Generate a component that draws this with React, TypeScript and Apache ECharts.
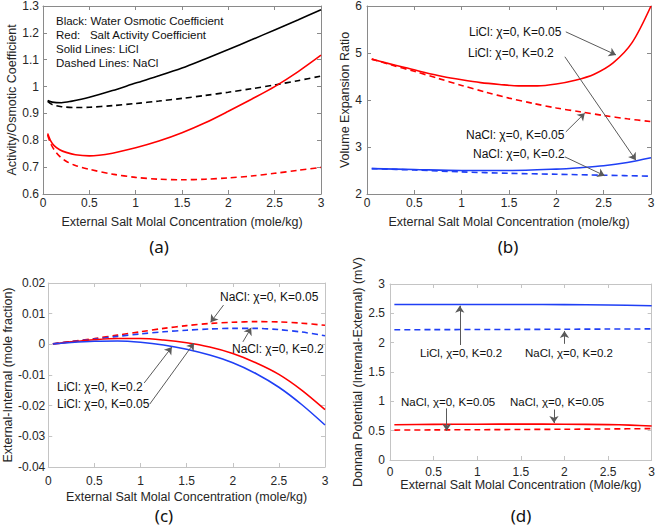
import React, { useEffect, useRef } from "react";
import * as echarts from "echarts";

// ---------- Panel (a): Activity / Osmotic coefficient ----------
const A_WATER_LICL: [number, number][] = [
  [0.05, 0.948], [0.1, 0.942], [0.2, 0.94], [0.3, 0.945], [0.5, 0.96], [0.75, 0.985],
  [1.0, 1.013], [1.25, 1.04], [1.5, 1.069], [1.75, 1.103], [2.0, 1.138], [2.25, 1.174],
  [2.5, 1.211], [2.75, 1.248], [3.0, 1.286],
];
const A_WATER_NACL: [number, number][] = [
  [0.05, 0.945], [0.1, 0.933], [0.2, 0.925], [0.35, 0.922], [0.5, 0.923], [0.75, 0.929],
  [1.0, 0.937], [1.25, 0.946], [1.5, 0.956], [1.75, 0.967], [2.0, 0.979], [2.25, 0.992],
  [2.5, 1.006], [2.75, 1.022], [3.0, 1.039],
];
const A_SALT_LICL: [number, number][] = [
  [0.05, 0.825], [0.08, 0.8], [0.12, 0.78], [0.18, 0.765], [0.25, 0.755], [0.35, 0.746],
  [0.5, 0.742], [0.75, 0.752], [1.0, 0.772], [1.25, 0.797], [1.5, 0.828], [1.75, 0.865],
  [2.0, 0.908], [2.25, 0.953], [2.5, 1.0], [2.75, 1.055], [3.0, 1.117],
];
const A_SALT_NACL: [number, number][] = [
  [0.05, 0.82], [0.08, 0.79], [0.12, 0.765], [0.18, 0.74], [0.25, 0.722], [0.35, 0.706],
  [0.5, 0.692], [0.75, 0.674], [1.0, 0.662], [1.25, 0.655], [1.5, 0.653], [1.75, 0.655],
  [2.0, 0.66], [2.25, 0.667], [2.5, 0.677], [2.75, 0.688], [3.0, 0.699],
];
const A_NOTES = [
  "Black: Water Osmotic Coefficient",
  "Red:   Salt Activity Coefficient",
  "Solid Lines: LiCl",
  "Dashed Lines: NaCl",
];

// ---------- Panel (b): Volume expansion ratio ----------
const B_LICL_K005: [number, number][] = [
  [0.05, 4.87], [0.2, 4.79], [0.4, 4.69], [0.6, 4.59], [0.8, 4.5], [1.0, 4.43],
  [1.2, 4.37], [1.4, 4.33], [1.6, 4.3], [1.8, 4.3], [2.0, 4.34], [2.2, 4.42],
  [2.4, 4.55], [2.6, 4.79], [2.8, 5.22], [3.0, 6.0],
];
const B_NACL_K005: [number, number][] = [
  [0.05, 4.87], [0.25, 4.75], [0.5, 4.61], [0.75, 4.46], [1.0, 4.31], [1.25, 4.17],
  [1.5, 4.04], [1.75, 3.93], [2.0, 3.83], [2.25, 3.75], [2.5, 3.67], [2.75, 3.6], [3.0, 3.54],
];
const B_LICL_K02: [number, number][] = [
  [0.05, 2.54], [0.5, 2.52], [1.0, 2.5], [1.5, 2.5], [2.0, 2.53], [2.25, 2.56],
  [2.5, 2.6], [2.75, 2.67], [3.0, 2.77],
];
const B_NACL_K02: [number, number][] = [
  [0.05, 2.54], [0.5, 2.51], [1.0, 2.47], [1.5, 2.44], [2.0, 2.42], [2.5, 2.4], [3.0, 2.38],
];
const B_LABELS = [
  "LiCl: χ=0, K=0.05",
  "LiCl: χ=0, K=0.2",
  "NaCl: χ=0, K=0.05",
  "NaCl: χ=0, K=0.2",
];
// arrows: [fromX, fromY, toX, toY] in data units
const B_ARROWS = [
  [2.1, 5.45, 2.63, 4.96],
  [2.09, 4.92, 2.84, 2.72],
  [2.1, 3.32, 2.3, 3.72],
  [2.09, 2.79, 2.51, 2.39],
];

// ---------- Panel (c): External - Internal (mole fraction) ----------
const C_NACL_K005: [number, number][] = [
  [0.05, 0.0002], [0.25, 0.0009], [0.5, 0.0019], [0.75, 0.003], [1.0, 0.0041], [1.25, 0.0052],
  [1.5, 0.0061], [1.75, 0.0068], [2.0, 0.0072], [2.25, 0.0074], [2.5, 0.0073], [2.75, 0.0069], [3.0, 0.0062],
];
const C_NACL_K02: [number, number][] = [
  [0.05, 0.0002], [0.25, 0.0009], [0.5, 0.0017], [0.75, 0.0026], [1.0, 0.0034], [1.25, 0.0041],
  [1.5, 0.0046], [1.75, 0.005], [2.0, 0.0052], [2.25, 0.0052], [2.5, 0.0048], [2.75, 0.004], [3.0, 0.0028],
];
const C_LICL_K005: [number, number][] = [
  [0.05, 0.0001], [0.25, 0.0008], [0.5, 0.0015], [0.75, 0.0019], [1.0, 0.0019], [1.25, 0.0014],
  [1.5, 0.0005], [1.75, -0.0009], [2.0, -0.003], [2.25, -0.006], [2.5, -0.0098], [2.75, -0.015], [3.0, -0.0213],
];
const C_LICL_K02: [number, number][] = [
  [0.05, 0.0001], [0.25, 0.0006], [0.5, 0.001], [0.75, 0.0011], [1.0, 0.0007], [1.25, -0.0002],
  [1.5, -0.0016], [1.75, -0.0035], [2.0, -0.006], [2.25, -0.0095], [2.5, -0.014], [2.75, -0.0197], [3.0, -0.0263],
];
const C_LABELS = [
  "NaCl: χ=0, K=0.05",
  "NaCl: χ=0, K=0.2",
  "LiCl: χ=0, K=0.2",
  "LiCl: χ=0, K=0.05",
];
const C_ARROWS = [
  [1.9, 0.0128, 1.76, 0.0072],
  [2.11, 0.0008, 2.2, 0.0054],
  [1.04, -0.0126, 1.34, -0.0009],
  [1.1, -0.0195, 1.58, 0.0004],
];

// ---------- Panel (d): Donnan potential ----------
const D_LICL_K02: [number, number][] = [
  [0.05, 2.65], [0.5, 2.65], [1.0, 2.65], [1.5, 2.65], [2.0, 2.648], [2.5, 2.643], [3.0, 2.63],
];
const D_NACL_K02: [number, number][] = [
  [0.05, 2.22], [0.5, 2.222], [1.0, 2.224], [1.5, 2.226], [2.0, 2.229], [2.5, 2.232], [3.0, 2.235],
];
const D_LICL_K005: [number, number][] = [
  [0.05, 0.6], [0.5, 0.607], [1.0, 0.61], [1.5, 0.611], [2.0, 0.61], [2.5, 0.603], [2.75, 0.595], [3.0, 0.58],
];
const D_NACL_K005: [number, number][] = [
  [0.05, 0.51], [0.5, 0.513], [1.0, 0.516], [1.5, 0.52], [2.0, 0.524], [2.5, 0.529], [3.0, 0.535],
];
const D_LABELS = [
  "LiCl, χ=0, K=0.2",
  "NaCl, χ=0, K=0.2",
  "NaCl, χ=0, K=0.05",
  "NaCl, χ=0, K=0.05",
];
const D_ARROWS = [
  [0.8, 1.96, 0.8, 2.63],
  [2.0, 1.98, 2.0, 2.2],
  [0.65, 0.88, 0.65, 0.5],
  [1.88, 0.86, 1.88, 0.63],
];

const PANEL_TAGS = ["(a)", "(b)", "(c)", "(d)"];

const FONT = "'Liberation Sans', Arial, Helvetica, sans-serif";
const TXT = "#262626";
const RED = "#ff0000";
const BLUE = "#1f3ff5";
const BLACK = "#000000";
const DASH = [6, 4];

export default function App() {
  const ref = useRef<HTMLDivElement>(null);

  useEffect(() => {
    if (!ref.current) return;
    const chart = echarts.init(ref.current, undefined, { renderer: "svg" });

    const grids = [
      { left: 43, top: 5, width: 278, height: 189 },
      { left: 367, top: 6, width: 284, height: 188 },
      { left: 46, top: 283, width: 279, height: 184 },
      { left: 390, top: 284, width: 264, height: 176 },
    ];
    const boxColor = ["#8a8a8a", "#8a8a8a", "#c4c4c4", "#c4c4c4"];
    const xName = [
      "External Salt Molal Concentration (mole/kg)",
      "External Salt Molal Concentration (mole/kg)",
      "External Salt Molal Concentration (mole/kg)",
      "External Salt Molal Concentration (Mole/kg)",
    ];
    const xGap = [21, 21, 23, 18];
    const xMargin = [3, 3, 8, 6];
    const yName = [
      "Activity/Osmotic Coefficient",
      "Volume Expansion Ratio",
      "External-Internal (mole fraction)",
      "Donnan Potential (Internal-External) (mV)",
    ];
    const yGap = [18, 12, 32, 24];
    const yMargin = [4, 5, 3, 5];
    const yRange = [
      { min: 0.6, max: 1.3, interval: 0.1 },
      { min: 2, max: 6, interval: 1 },
      { min: -0.04, max: 0.02, interval: 0.01 },
      { min: 0, max: 3, interval: 0.5 },
    ];

    const xAxis: any[] = [];
    const yAxis: any[] = [];
    grids.forEach((_, i) => {
      const lc = boxColor[i];
      const common = {
        type: "value",
        gridIndex: i,
        axisLine: { show: true, onZero: false, lineStyle: { color: lc, width: 1 } },
        axisTick: { show: true, inside: true, length: 4, lineStyle: { color: lc } },
        splitLine: { show: false },
      };
      xAxis.push({
        ...common,
        position: "bottom",
        min: 0,
        max: 3,
        interval: 0.5,
        name: xName[i],
        nameLocation: "middle",
        nameGap: xGap[i],
        nameTextStyle: { fontSize: 12.5, color: TXT, fontFamily: FONT },
        axisLabel: { margin: xMargin[i], fontSize: 12, color: TXT, fontFamily: FONT },
      });
      xAxis.push({
        ...common,
        position: "top",
        min: 0,
        max: 3,
        interval: 0.5,
        axisLabel: { show: false },
      });
      yAxis.push({
        ...common,
        position: "left",
        ...yRange[i],
        name: yName[i],
        nameLocation: "middle",
        nameGap: yGap[i],
        nameTextStyle: { fontSize: 12.5, color: TXT, fontFamily: FONT },
        axisLabel: { margin: yMargin[i], fontSize: 12, color: TXT, fontFamily: FONT },
      });
      yAxis.push({
        ...common,
        position: "right",
        ...yRange[i],
        axisLabel: { show: false },
      });
    });

    const arrowMark = (arrows: number[][]) => ({
      silent: true,
      symbol: ["none", "arrow"],
      symbolSize: 7,
      label: { show: false },
      lineStyle: { color: "#5a5a5a", width: 1, type: "solid" },
      emphasis: { disabled: true },
      data: arrows.map((a) => [{ coord: [a[0], a[1]] }, { coord: [a[2], a[3]] }]),
    });

    const line = (
      g: number,
      data: [number, number][],
      color: string,
      dashed: boolean,
      name: string,
      arrows?: number[][]
    ) => ({
      type: "line",
      name,
      xAxisIndex: 2 * g,
      yAxisIndex: 2 * g,
      data,
      smooth: 0.3,
      showSymbol: false,
      symbol: "none",
      lineStyle: { color, width: 1.6, type: dashed ? DASH : "solid" },
      itemStyle: { color },
      ...(arrows ? { markLine: arrowMark(arrows) } : {}),
    });

    const series = [
      line(0, A_WATER_LICL, BLACK, false, "Water osmotic LiCl"),
      line(0, A_WATER_NACL, BLACK, true, "Water osmotic NaCl"),
      line(0, A_SALT_LICL, RED, false, "Salt activity LiCl"),
      line(0, A_SALT_NACL, RED, true, "Salt activity NaCl"),
      line(1, B_LICL_K005, RED, false, "LiCl K=0.05", B_ARROWS),
      line(1, B_NACL_K005, RED, true, "NaCl K=0.05"),
      line(1, B_LICL_K02, BLUE, false, "LiCl K=0.2"),
      line(1, B_NACL_K02, BLUE, true, "NaCl K=0.2"),
      line(2, C_NACL_K005, RED, true, "NaCl K=0.05", C_ARROWS),
      line(2, C_NACL_K02, BLUE, true, "NaCl K=0.2"),
      line(2, C_LICL_K005, RED, false, "LiCl K=0.05"),
      line(2, C_LICL_K02, BLUE, false, "LiCl K=0.2"),
      line(3, D_LICL_K02, BLUE, false, "LiCl K=0.2", D_ARROWS),
      line(3, D_NACL_K02, BLUE, true, "NaCl K=0.2"),
      line(3, D_LICL_K005, RED, false, "LiCl K=0.05"),
      line(3, D_NACL_K005, RED, true, "NaCl K=0.05"),
    ];

    const text = (s: string, x: number, y: number, size = 12, family = FONT, align = "left") => ({
      type: "text",
      x,
      y,
      silent: true,
      style: { text: s, fontSize: size, fontFamily: family, fill: "#111", align, verticalAlign: "middle" },
    });

    const aNoteY = [21, 35, 49, 63];
    const bPos = [[469, 32], [468, 53], [466, 135], [473, 154]];
    const cPos = [[220, 297], [232, 349], [57, 387], [57, 404]];
    const dPos = [[420, 353], [525, 353], [401, 402], [510, 402]];
    const tagPos = [[159, 246], [508, 246], [164, 515], [521, 515]];

    const graphic: any[] = [
      ...A_NOTES.map((s, i) => text(s, 56, aNoteY[i], 11.5)),
      ...B_LABELS.map((s, i) => text(s, bPos[i][0], bPos[i][1], 12)),
      ...C_LABELS.map((s, i) => text(s, cPos[i][0], cPos[i][1], 12)),
      ...D_LABELS.map((s, i) => text(s, dPos[i][0], dPos[i][1], 11.5)),
      ...PANEL_TAGS.map((s, i) =>
        text(s, tagPos[i][0], tagPos[i][1], 17, "'Noto Sans', 'Open Sans', sans-serif", "center")
      ),
    ];

    chart.setOption({
      animation: false,
      backgroundColor: "#ffffff",
      grid: grids.map((g) => ({ ...g, containLabel: false })),
      xAxis,
      yAxis,
      series,
      graphic,
    });

    return () => chart.dispose();
  }, []);

  return (
    <div
      ref={ref}
      style={{ position: "absolute", left: 0, top: 0, width: 658, height: 528 }}
    />
  );
}
